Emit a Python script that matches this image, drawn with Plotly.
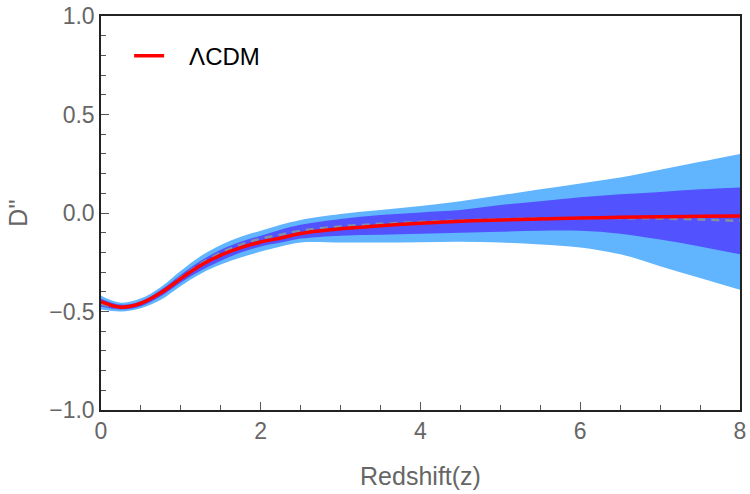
import plotly.graph_objects as go

# Redshift grid
z = [0, 0.25, 0.5, 0.75, 1, 1.25, 1.5, 1.75, 2, 2.25, 2.5, 3, 3.5, 4, 4.5, 5, 5.5, 6, 6.5, 7, 7.5, 8]

# LambdaCDM D''
lcdm = [-0.45, -0.478, -0.458, -0.405, -0.333, -0.265, -0.214, -0.176, -0.147, -0.127, -0.104,
        -0.08, -0.065, -0.052, -0.042, -0.035, -0.03, -0.026, -0.022, -0.019, -0.017, -0.015]

# reconstructed mean (dashed)
mean = [-0.46, -0.48, -0.458, -0.405, -0.328, -0.258, -0.202, -0.161, -0.13, -0.11, -0.09,
        -0.068, -0.055, -0.046, -0.038, -0.032, -0.028, -0.026, -0.026, -0.028, -0.033, -0.04]

# 2-sigma band
up2 = [-0.42, -0.455, -0.433, -0.375, -0.293, -0.218, -0.162, -0.12, -0.09, -0.06, -0.035,
       -0.005, 0.015, 0.035, 0.06, 0.09, 0.12, 0.15, 0.18, 0.22, 0.26, 0.30]
lo2 = [-0.49, -0.50, -0.483, -0.44, -0.37, -0.308, -0.262, -0.226, -0.196, -0.17, -0.15,
       -0.15, -0.15, -0.148, -0.146, -0.15, -0.16, -0.175, -0.21, -0.27, -0.33, -0.39]

# 1-sigma band
up1 = [-0.435, -0.465, -0.448, -0.39, -0.313, -0.243, -0.187, -0.146, -0.115, -0.085, -0.06,
       -0.03, -0.01, 0.003, 0.015, 0.04, 0.06, 0.08, 0.095, 0.107, 0.12, 0.13]
lo1 = [-0.475, -0.49, -0.473, -0.423, -0.353, -0.292, -0.242, -0.201, -0.17, -0.15, -0.13,
       -0.115, -0.11, -0.105, -0.10, -0.095, -0.09, -0.09, -0.105, -0.135, -0.17, -0.21]

x_ticks = [0, 2, 4, 6, 8]
y_ticks = [-1, -0.5, 0, 0.5, 1]

LIGHT = "#61B5FF"
DARK = "#5252FF"

fig = go.Figure()
fig.add_trace(go.Scatter(x=z, y=lo2, mode="lines", line=dict(width=0, shape="spline", color=LIGHT),
                         showlegend=False, hoverinfo="skip"))
fig.add_trace(go.Scatter(x=z, y=up2, mode="lines", line=dict(width=0, shape="spline", color=LIGHT),
                         fill="tonexty", fillcolor=LIGHT, showlegend=False, hoverinfo="skip"))
fig.add_trace(go.Scatter(x=z, y=lo1, mode="lines", line=dict(width=0, shape="spline", color=DARK),
                         showlegend=False, hoverinfo="skip"))
fig.add_trace(go.Scatter(x=z, y=up1, mode="lines", line=dict(width=0, shape="spline", color=DARK),
                         fill="tonexty", fillcolor=DARK, showlegend=False, hoverinfo="skip"))
fig.add_trace(go.Scatter(x=z, y=mean, mode="lines",
                         line=dict(width=2.5, shape="spline", color="#8090A8", dash="8px,6px"),
                         showlegend=False))
fig.add_trace(go.Scatter(x=z, y=lcdm, mode="lines", name="\u00a0\u00a0\u00a0ΛCDM",
                         line=dict(width=3.5, shape="spline", color="#FF0000")))

FONT = "Liberation Sans, Arial, sans-serif"
tickfont = dict(family=FONT, size=23, color="#666666")
TICKC = "#555555"


def tick_style(dtick_minor):
    return dict(ticks="inside", ticklen=8, tickwidth=1, tickcolor=TICKC,
                showgrid=False, zeroline=False, automargin=False,
                minor=dict(dtick=dtick_minor, ticks="inside", ticklen=5, tickcolor=TICKC,
                           tickwidth=1, showgrid=False))


fig.update_layout(
    width=750, height=494,
    margin=dict(l=101, r=10, t=16, b=84),
    paper_bgcolor="white", plot_bgcolor="white",
    font=dict(family=FONT),
    showlegend=True,
    legend=dict(x=0.044, y=0.955, xanchor="left", yanchor="top", itemwidth=30,
                font=dict(family=FONT, size=24, color="#000000"),
                bgcolor="rgba(0,0,0,0)"),
    xaxis=dict(range=[0, 8], tickvals=x_ticks, **tick_style(0.5),
               showline=True, linecolor="#222222", linewidth=1.5, mirror=True,
               tickfont=tickfont,
               title=dict(text="Redshift(z)", font=dict(family=FONT, size=25, color="#666666"),
                          standoff=24)),
    yaxis=dict(range=[-1, 1], tickvals=y_ticks, tickformat=".1f", **tick_style(0.1),
               showline=True, linecolor="#222222", linewidth=1.5, mirror=True,
               tickfont=tickfont,
               title=dict(text="D''", font=dict(family=FONT, size=25, color="#666666"),
                          standoff=14)),
    xaxis2=dict(range=[0, 8], tickvals=x_ticks, overlaying="x", side="top", anchor="y",
                showticklabels=False, showline=False, **tick_style(0.5)),
    yaxis2=dict(range=[-1, 1], tickvals=y_ticks, overlaying="y", side="right", anchor="x",
                showticklabels=False, showline=False, **tick_style(0.1)),
)

fig.write_html("out.html")
